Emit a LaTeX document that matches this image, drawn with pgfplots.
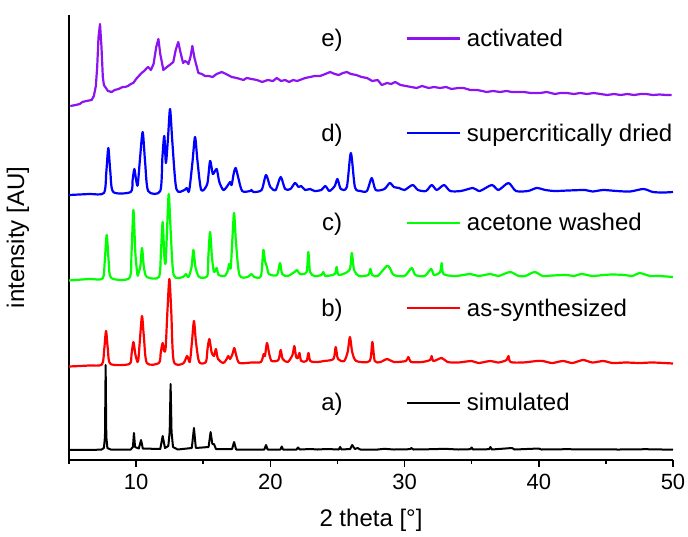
\documentclass[border=0pt]{standalone}
\usepackage{fontspec}
\setmainfont{Liberation Sans}
\usepackage{pgfplots}
\pgfplotsset{compat=1.18}

\definecolor{xviolet}{RGB}{140,20,240}
\definecolor{xblue}{RGB}{0,0,255}
\definecolor{xgreen}{RGB}{0,255,0}
\definecolor{xred}{RGB}{255,0,0}

\begin{document}
\begin{tikzpicture}
\useasboundingbox (-34.5pt,-38pt) rectangle (309.5pt,230pt);
\begin{axis}[
  width=302pt, height=222.5pt, scale only axis,
  xmin=5, xmax=50, ymin=2, ymax=447,
  axis lines*=left,
  axis line style={line width=0.8pt},
  xtick={10,20,30,40,50},
  minor xtick={5,15,25,35,45},
  ytick=\empty,
  tick align=outside,
  major tick length=3.5pt, minor tick length=2pt,
  every tick/.style={line width=0.8pt, black},
  /pgf/number format/assume math mode=true,
  tick label style={font=\fontsize{11}{13}\selectfont},
  label style={font=\fontsize{12}{14}\selectfont},
  xlabel={2 theta [°]},
  ylabel={intensity [AU]},
  xlabel style={at={(axis description cs:0.5,-0.1348)}, anchor=center},
  ylabel style={at={(axis description cs:-0.0844,0.5)}, anchor=center},
  every axis plot/.append style={line width=1.1pt, line join=round},
]
% a) simulated
\addplot[black, line width=1pt] coordinates {
(5,12) (7.4,12.3) (7.6,14) (7.68,25) (7.73,97) (7.78,25) (7.86,14) (8.1,12.5)
(9.6,12.5) (9.76,15) (9.84,29) (9.92,15) (10.2,13.5) (10.37,22) (10.5,13.5)
(11.8,13) (11.98,26) (12.15,14) (12.4,16) (12.5,30) (12.57,78) (12.64,30) (12.75,15) (13.1,12.5)
(14.15,14) (14.31,34) (14.45,14) (15.4,15) (15.55,30) (15.68,18) (15.8,18) (15.95,13)
(17.15,13) (17.3,20) (17.45,12.5) (19.55,12.5) (19.68,17) (19.8,12.5) (20.75,12.5) (20.85,15.5) (20.95,12.5)
(21.95,12.5) (22.06,14.5) (22.2,12.5) (23.0,13) (23.5,12.5) (24.2,13) (25.1,12.5) (25.2,15) (25.3,12.5)
(25.95,13) (26.1,17) (26.3,13) (26.5,14) (26.7,12.5) (28.0,12.5) (28.5,13.2) (29.2,12.5)
(30.4,12.8) (30.5,14) (30.65,12.5) (32.0,12.8) (33.0,13.2) (34.0,12.5) (34.9,12.8) (35.0,14.5) (35.1,12.5)
(36.3,12.8) (36.4,15) (36.5,12.5) (38.0,14) (38.2,12.5) (40.0,13.5) (40.2,12.5) (42.0,12.8) (44.0,12.6)
(46,12.5) (48,12.8) (50,12.3)
};
% b) as-synthesized
\addplot[xred, smooth, tension=0.45] coordinates {
(5,95.5) (6.5,96.5) (7.45,97.5) (7.62,112) (7.76,131) (7.9,112) (8.1,98) (9.5,98) (9.66,108) (9.8,120)
(9.94,108) (10.1,100) (10.18,104) (10.3,125) (10.44,146) (10.58,125) (10.8,99) (11.7,99) (11.84,110)
(11.98,119) (12.08,111) (12.2,114) (12.33,150) (12.48,183) (12.62,150) (12.8,101) (13.5,98.5) (13.8,106)
(14.0,100) (14.16,120) (14.31,141) (14.46,120) (14.7,100) (15.2,100) (15.32,113) (15.46,123) (15.62,110)
(15.8,106) (15.95,113) (16.1,103) (16.5,99) (16.75,103) (16.87,106) (17.0,103) (17.18,108) (17.32,114)
(17.47,106) (17.7,99) (18.6,99.5) (19.3,100) (19.5,108) (19.6,106) (19.75,119) (19.92,108) (20.1,101)
(20.6,102) (20.77,112) (20.92,103) (21.3,100) (21.65,107) (21.79,116) (21.92,105) (22.05,104) (22.17,109)
(22.3,101) (22.7,101) (22.84,109) (22.98,101) (23.5,100) (24.0,101) (24.7,103) (24.87,115) (25.04,103)
(25.5,101) (25.76,110) (25.93,125) (26.1,110) (26.4,101) (27.4,101) (27.6,120) (27.78,101) (28.2,100)
(28.72,103) (29.2,100) (30.1,101) (30.28,105) (30.5,100) (31.3,100) (31.9,102) (32.02,106) (32.15,101)
(32.77,104) (33.2,100) (34.0,99.5) (35,101) (35.5,99) (36.4,101) (37,99.5) (37.6,102) (37.74,106)
(37.9,100) (38.8,99.5) (39.85,101) (40.3,101) (41,99) (41.8,101) (42.5,99) (43.3,102) (44,99.5)
(44.8,101) (45.5,99) (46.5,99.5) (47.5,99) (48.5,99.5) (50,98.5)
};
% c) acetone washed
\addplot[xgreen, smooth, tension=0.45] coordinates {
(5,181.5) (6.5,183) (7.5,183.5) (7.66,200) (7.81,227) (7.96,200) (8.15,184) (9.5,184) (9.66,210) (9.8,252)
(9.94,210) (10.1,187) (10.2,190) (10.32,196) (10.44,214) (10.58,195) (10.8,185) (11.7,185) (11.85,210)
(11.98,240) (12.1,206) (12.2,199) (12.3,230) (12.43,268) (12.58,230) (12.8,187) (13.5,185) (13.7,188)
(13.9,185) (14.13,195) (14.27,212) (14.42,195) (14.7,185) (15.3,186) (15.38,205) (15.51,230) (15.65,205)
(15.8,190) (16.0,194) (16.15,187) (16.6,186) (16.85,192) (16.92,198) (17.05,194) (17.18,225) (17.3,249)
(17.44,220) (17.7,187) (18.3,185) (18.6,188) (18.8,185) (19.3,186) (19.48,212) (19.6,201) (19.75,195)
(19.9,188) (20.5,187) (20.72,199) (20.88,188) (21.3,186) (21.8,190) (22.0,192) (22.2,188) (22.7,190)
(22.83,210) (22.96,190) (23.3,186) (23.8,187) (23.95,190) (24.1,186) (24.8,188) (24.94,195) (25.1,187)
(25.9,192) (26.07,209) (26.24,192) (26.6,186) (27.3,187) (27.45,193) (27.6,187) (28.0,186) (28.67,196)
(28.9,194) (29.2,187) (30.0,186) (30.53,194) (30.8,187) (31.5,186) (31.97,193) (32.2,187) (32.65,190)
(32.77,199) (32.9,188) (33.8,186) (34.9,188) (35.5,186) (36.4,188) (37.0,186) (37.86,190) (38.5,186)
(39.0,186) (39.7,190) (40.3,186) (41.0,186.5) (42.1,187) (42.6,186) (43.2,188) (44.0,186) (44.8,187)
(45.5,187.5) (46.4,187) (47.0,186) (47.5,189) (48.3,186) (49,186) (50,185)
};
% d) supercritically dried
\addplot[xblue, smooth, tension=0.45] coordinates {
(5,267) (6.5,268) (7.6,269) (7.78,290) (7.93,314) (8.08,290) (8.3,270) (9.6,270) (9.74,282) (9.87,293)
(10.0,282) (10.12,277) (10.3,305) (10.49,330) (10.67,300) (10.9,271) (11.8,271) (11.96,305) (12.1,326)
(12.22,299) (12.38,325) (12.53,353) (12.7,320) (13.0,273) (13.6,272) (13.77,274) (13.95,271) (14.2,300)
(14.39,325) (14.58,300) (14.85,272) (15.3,278) (15.51,301) (15.72,288) (16.0,293) (16.2,280) (16.5,272)
(16.8,276) (17.0,280) (17.12,277) (17.28,289) (17.42,294) (17.6,285) (17.9,271) (18.5,271) (18.6,272)
(18.75,270) (19.35,272) (19.68,287) (20.0,275) (20.4,272) (20.77,285) (21.1,273) (21.5,273) (21.84,279)
(22.1,275) (22.3,276) (22.6,272) (22.96,273) (23.3,271) (23.8,272) (24.1,276) (24.4,271) (24.8,276)
(25.0,283) (25.25,273) (25.7,275) (26.0,309) (26.3,275) (26.7,271) (27.2,271) (27.55,284) (27.85,272)
(28.5,273) (28.9,279) (29.2,275) (29.6,274) (30.0,272) (30.6,277) (31.0,272) (31.6,271) (32.02,277)
(32.4,272) (32.94,277) (33.4,271) (34.2,271) (35.1,274) (35.6,271) (36.5,277) (37.0,272) (37.74,279)
(38.3,271) (39.2,271) (39.85,274) (40.5,272) (41.2,271) (42.2,271.5) (43.45,272) (44.0,270.5) (44.8,272)
(45.8,271) (46.8,270.5) (47.8,273) (48.5,270) (49.3,269.5) (50,270)
};
% e) activated
\addplot[xviolet] coordinates {
(5.1,356) (5.5,357) (5.8,358) (6.0,360) (6.3,361) (6.69,362) (6.85,366) (7.0,376) (7.1,395) (7.2,425)
(7.31,438) (7.42,415) (7.52,385) (7.6,377) (7.75,374) (7.9,371) (8.18,370) (8.4,372) (8.7,373) (9.0,375)
(9.17,375) (9.4,376) (9.6,378) (9.79,379) (10.0,383) (10.2,386) (10.41,389) (10.6,391) (10.8,394) (10.9,395)
(11.1,392) (11.3,398) (11.5,415) (11.66,423) (11.8,408) (12.03,392) (12.3,395) (12.5,397) (12.77,400)
(12.95,412) (13.14,420) (13.3,410) (13.5,399) (13.65,401) (13.77,400) (13.9,398) (14.05,405) (14.19,416)
(14.35,404) (14.64,389) (14.9,388) (15.13,386) (15.4,386) (15.7,385) (16.0,388) (16.38,390) (16.7,388)
(17.12,385) (17.5,384) (18.0,382) (18.24,384) (18.6,383) (19.0,382) (19.4,380) (19.8,382) (20.2,381)
(20.48,384) (20.8,381) (21.1,382) (21.4,380) (21.7,382) (22.0,381) (22.2,382) (22.6,384) (22.96,385)
(23.3,386) (23.7,386) (24.1,388) (24.45,390) (24.8,388) (25.1,387) (25.4,389) (25.7,390) (26.0,388)
(26.4,387) (26.8,385) (27.2,384) (27.6,381) (28.0,382) (28.3,377) (28.7,379) (29.0,378) (29.3,380)
(29.7,377) (30.1,376) (30.5,375) (30.9,374) (31.3,376) (31.8,374) (32.2,375) (32.64,374) (33.1,375)
(33.5,373) (34.0,374) (34.4,374) (34.9,372) (35.4,372) (35.8,371) (36.1,370) (36.6,371) (37.1,370)
(37.6,371) (38.0,370) (38.4,370) (38.9,370) (39.4,369) (40.1,369) (40.6,370) (41.2,368) (41.6,369)
(42.1,369) (42.6,368) (43.1,369) (43.6,368) (44.1,369) (44.6,368) (45.1,367) (45.6,368) (46.1,367)
(46.6,368) (47.1,367) (47.6,368) (48.0,368) (48.5,367) (49.0,367.5) (49.5,367) (49.9,367)
};
% labels and legend samples
\begin{scope}[font=\fontsize{12}{14}\selectfont]
\node[anchor=base] at (axis cs:24.6,415.5) {e)};
\node[anchor=base] at (axis cs:24.6,320.7) {d)};
\node[anchor=base] at (axis cs:24.6,231.3) {c)};
\node[anchor=base] at (axis cs:24.6,145.7) {b)};
\node[anchor=base] at (axis cs:24.6,51.3) {a)};
\draw[xviolet, line width=1.1pt] (axis cs:30.16,423.5) -- (axis cs:34.13,423.5);
\draw[xblue, line width=1.1pt] (axis cs:30.16,328.7) -- (axis cs:34.13,328.7);
\draw[xgreen, line width=1.1pt] (axis cs:30.16,239.3) -- (axis cs:34.13,239.3);
\draw[xred, line width=1.1pt] (axis cs:30.16,153.7) -- (axis cs:34.13,153.7);
\draw[black, line width=1.1pt] (axis cs:30.16,59.3) -- (axis cs:34.13,59.3);
\node[anchor=base west, inner xsep=0pt] at (axis cs:34.62,415.5) {activated};
\node[anchor=base west, inner xsep=0pt] at (axis cs:34.62,320.7) {supercritically dried};
\node[anchor=base west, inner xsep=0pt] at (axis cs:34.62,231.3) {acetone washed};
\node[anchor=base west, inner xsep=0pt] at (axis cs:34.62,145.7) {as-synthesized};
\node[anchor=base west, inner xsep=0pt] at (axis cs:34.62,51.3) {simulated};
\end{scope}
\end{axis}
\end{tikzpicture}
\end{document}
